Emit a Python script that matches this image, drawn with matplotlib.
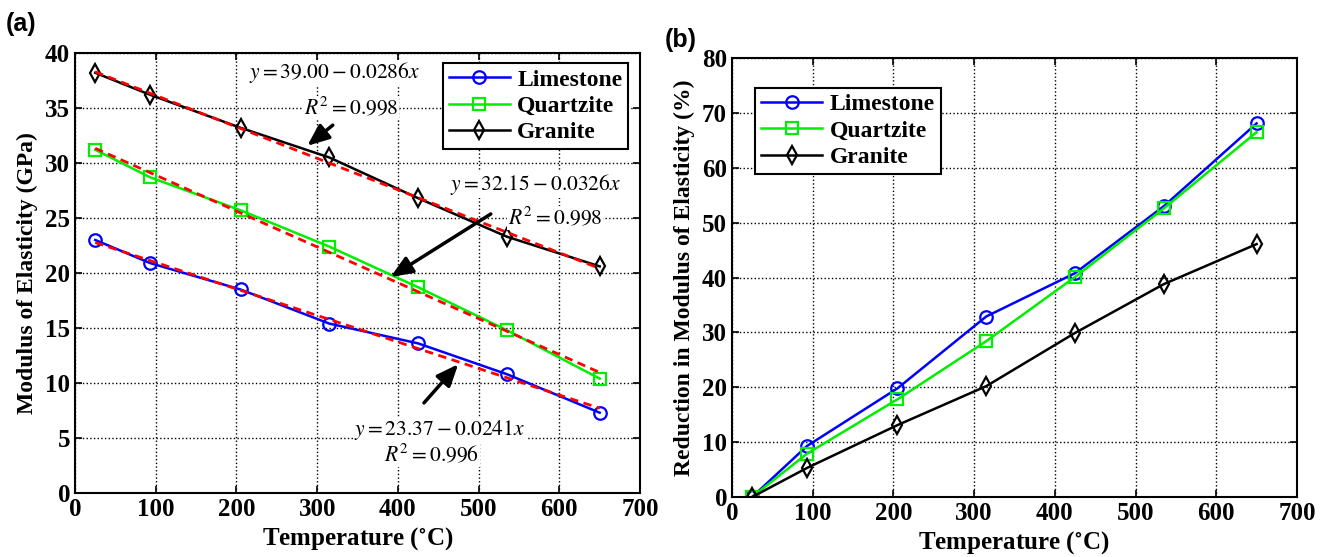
import numpy as np
import matplotlib
matplotlib.use("Agg")
import matplotlib.pyplot as plt

# --- Data ---
temp = [25, 93, 205, 315, 425, 535, 650]

mod_limestone = [23.0, 20.9, 18.5, 15.4, 13.6, 10.8, 7.3]
mod_quartzite = [31.2, 28.7, 25.7, 22.4, 18.7, 14.8, 10.4]
mod_granite = [38.2, 36.2, 33.2, 30.5, 26.8, 23.3, 20.6]

red_limestone = [0, 9.3, 19.8, 32.9, 40.8, 53.0, 68.1]
red_quartzite = [0, 7.9, 17.8, 28.4, 40.1, 52.6, 66.5]
red_granite = [0, 5.3, 13.1, 20.2, 29.9, 38.8, 46.1]

# linear fits printed on panel (a): intercept, slope, R^2
fit_intercept = [23.37, 32.15, 39.00]
fit_slope = [0.0241, 0.0326, 0.0286]
fit_r2 = [0.996, 0.998, 0.998]

series = ["Limestone", "Quartzite", "Granite"]
colors = ["#0000ff", "#00ee00", "#000000"]
markers = ["o", "s", "d"]

plt.rcParams.update({
    "font.family": "Liberation Serif",
    "mathtext.fontset": "stix",
    "xtick.direction": "in",
    "ytick.direction": "in",
    "xtick.top": True,
    "ytick.right": True,
})

fig = plt.figure(figsize=(13.26, 5.57), dpi=100)
ax1 = fig.add_axes([0.0566, 0.1149, 0.4261, 0.790])
ax2 = fig.add_axes([0.552, 0.1077, 0.4261, 0.788])

msize = [9, 8, 9]

def style_axes(ax, ylim, ystep, ylabel):
    ax.set_xlim(0, 700)
    ax.set_ylim(*ylim)
    ax.set_xticks(np.arange(0, 701, 100))
    ax.set_yticks(np.arange(ylim[0], ylim[1] + 0.1, ystep))
    ax.grid(True, color="black", linestyle=":", linewidth=1.0)
    ax.set_axisbelow(True)
    ax.tick_params(labelsize=18, length=5, width=1.2)
    for lab in ax.get_xticklabels() + ax.get_yticklabels():
        lab.set_fontweight("bold")
    for s in ax.spines.values():
        s.set_linewidth(1.5)
    ax.set_xlabel(r"Temperature ($\mathbf{^{\circ}}$C)", fontsize=18, fontweight="bold", labelpad=3)
    ax.set_ylabel(ylabel, fontsize=17, fontweight="bold", labelpad=5)

def add_legend(ax, loc, anchor):
    leg = ax.legend(loc=loc, bbox_to_anchor=anchor, fancybox=False, borderaxespad=0,
                    edgecolor="black", framealpha=1,
                    prop={"family": "Liberation Serif", "weight": "bold", "size": 17},
                    handlelength=2.6, borderpad=0.25, labelspacing=0.2, handletextpad=0.3)
    leg.get_frame().set_linewidth(1.5)

# (a) modulus with fits
for name, vals, c, m, ms in zip(series, [mod_limestone, mod_quartzite, mod_granite], colors, markers, msize):
    ax1.plot(temp, vals, color=c, marker=m, markersize=ms, markerfacecolor="none",
             markeredgewidth=1.6, linewidth=1.8, label=name)
for a, b in zip(fit_intercept, fit_slope):
    xx = np.array([temp[0], temp[-1]])
    ax1.plot(xx, a - b * xx, color="red", linestyle="--", linewidth=2.0, dashes=(3, 2))

style_axes(ax1, (0, 40), 5, "Modulus of Elasticity (GPa)")

# equation labels + arrows
eq_pos = [(452, 5.7), (570, 28.0), (322, 38.2)]
r2_pos = [(442, 3.5), (595, 25.0), (342, 35.0)]
arrows = [((430, 8.0), (477, 11.9)), ((518, 25.5), (388, 19.5)), ((322, 33.6), (285, 31.4))]
for a, b, r2, ep, rp, (tail, head) in zip(fit_intercept, fit_slope, fit_r2, eq_pos, r2_pos, arrows):
    ax1.text(ep[0], ep[1], r"$y = %.2f - %.4fx$" % (a, b), fontsize=15.5, ha="center", va="center",
             fontweight="normal", bbox=dict(facecolor="white", edgecolor="none", pad=0.5))
    ax1.text(rp[0], rp[1], r"$R^2 = %.3f$" % r2, fontsize=15.5, ha="center", va="center",
             fontweight="normal", bbox=dict(facecolor="white", edgecolor="none", pad=0.5))
    ax1.annotate("", xy=head, xytext=tail,
                 arrowprops=dict(arrowstyle="-|>,head_length=0.6,head_width=0.25", color="black",
                                 lw=2.5, mutation_scale=22))

add_legend(ax1, "upper right", (0.979, 0.977))

# (b) reduction
for name, vals, c, m, ms in zip(series, [red_limestone, red_quartzite, red_granite], colors, markers, msize):
    ax2.plot(temp, vals, color=c, marker=m, markersize=ms, markerfacecolor="none",
             markeredgewidth=1.6, linewidth=1.8, label=name)

style_axes(ax2, (0, 80), 10, "Reduction in Modulus of Elasticity (%)")
add_legend(ax2, "upper left", (0.041, 0.932))

fig.text(0.004, 0.945, "(a)", fontsize=18, fontweight="bold", family="Liberation Sans")
fig.text(0.501, 0.915, "(b)", fontsize=18, fontweight="bold", family="Liberation Sans")

fig.savefig("out.png", dpi=100)
